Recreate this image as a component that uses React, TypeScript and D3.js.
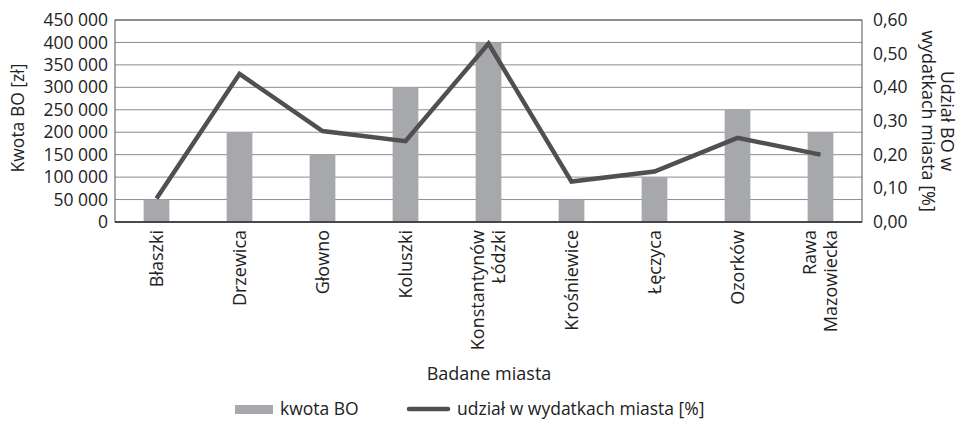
import React from "react";
import * as d3 from "d3";

const categories: string[][] = [
  ["Błaszki"],
  ["Drzewica"],
  ["Głowno"],
  ["Koluszki"],
  ["Konstantynów", "Łódzki"],
  ["Krośniewice"],
  ["Łęczyca"],
  ["Ozorków"],
  ["Rawa", "Mazowiecka"],
];
const kwotaBO: number[] = [50000, 200000, 150000, 300000, 400000, 50000, 100000, 250000, 200000];
const udzial: number[] = [0.07, 0.44, 0.27, 0.24, 0.53, 0.12, 0.15, 0.25, 0.2];
const leftTicks: number[] = [0, 50000, 100000, 150000, 200000, 250000, 300000, 350000, 400000, 450000];
const rightTicks: number[] = [0, 0.1, 0.2, 0.3, 0.4, 0.5, 0.6];

const W = 959;
const H = 424;
const plot = { left: 115, right: 862, top: 20, bottom: 222 };
const FONT = "'Open Sans', sans-serif";

export default function App() {
  const keys = categories.map((c) => c.join(" "));
  const x = d3.scaleBand<string>().domain(keys).range([plot.left, plot.right]).padding(0);
  const yL = d3.scaleLinear().domain([0, 450000]).range([plot.bottom, plot.top]);
  const yR = d3.scaleLinear().domain([0, 0.6]).range([plot.bottom, plot.top]);
  const barW = x.bandwidth() * 0.31;
  const fmtL = (v: number) => d3.format(",")(v).replace(/,/g, " ");
  const fmtR = (v: number) => v.toFixed(2).replace(".", ",");
  const line = d3
    .line<number>()
    .x((_, i) => (x(keys[i]) as number) + x.bandwidth() / 2)
    .y((d) => yR(d));

  return (
    <svg width={W} height={H} style={{ position: "absolute", left: 0, top: 0, background: "#fff" }} fontFamily={FONT}>
      {leftTicks.map((t) => (
        <line key={"g" + t} x1={plot.left} x2={plot.right} y1={yL(t)} y2={yL(t)} stroke="#8c8c8c" strokeWidth={1} />
      ))}
      {kwotaBO.map((v, i) => (
        <rect
          key={"b" + i}
          x={(x(keys[i]) as number) + x.bandwidth() / 2 - barW / 2}
          y={yL(v)}
          width={barW}
          height={plot.bottom - yL(v)}
          fill="#a7a8ab"
        />
      ))}
      <rect x={plot.left} y={plot.top} width={plot.right - plot.left} height={plot.bottom - plot.top} fill="none" stroke="#555" strokeWidth={1} />
      <line x1={plot.left} x2={plot.right} y1={plot.bottom} y2={plot.bottom} stroke="#333" strokeWidth={1.5} />
      <path d={line(udzial) || ""} fill="none" stroke="#505050" strokeWidth={4.5} strokeLinejoin="miter" />
      {leftTicks.map((t) => (
        <text key={"lt" + t} x={plot.left - 7} y={yL(t)} dy="0.35em" textAnchor="end" fontSize={17.5} fill="#222">
          {fmtL(t)}
        </text>
      ))}
      {rightTicks.map((t) => (
        <text key={"rt" + t} x={873} y={yR(t)} dy="0.35em" textAnchor="start" fontSize={17.5} fill="#222">
          {fmtR(t)}
        </text>
      ))}
      {categories.map((lines, i) => {
        const cx = (x(keys[i]) as number) + x.bandwidth() / 2;
        const lh = 21;
        return (
          <g key={"xl" + i} transform={`translate(${cx},230) rotate(-90)`}>
            {lines.map((ln, j) => (
              <text key={j} x={0} y={(j - (lines.length - 1) / 2) * lh} dy="0.35em" textAnchor="end" fontSize={18} fill="#222">
                {ln}
              </text>
            ))}
          </g>
        );
      })}
      <text transform={`translate(18,118) rotate(-90)`} textAnchor="middle" dy="0.35em" fontSize={17.5} fill="#222">
        Kwota BO [zł]
      </text>
      <g transform={`translate(937.5,121) rotate(90)`}>
        <text x={0} y={-9.5} dy="0.35em" textAnchor="middle" fontSize={18} fill="#222">Udział BO w</text>
        <text x={0} y={9.5} dy="0.35em" textAnchor="middle" fontSize={18} fill="#222">wydatkach miasta [%]</text>
      </g>
      <text x={489} y={374} dy="0.35em" textAnchor="middle" fontSize={18} fill="#222">
        Badane miasta
      </text>
      <rect x={235} y={405} width={38} height={9} fill="#a7a8ab" />
      <text x={280} y={409} dy="0.35em" fontSize={17.5} fill="#222">kwota BO</text>
      <line x1={409} x2={448} y1={409} y2={409} stroke="#505050" strokeWidth={4.5} strokeLinecap="round" />
      <text x={457} y={409} dy="0.35em" fontSize={17.5} fill="#222">udział w wydatkach miasta [%]</text>
    </svg>
  );
}
